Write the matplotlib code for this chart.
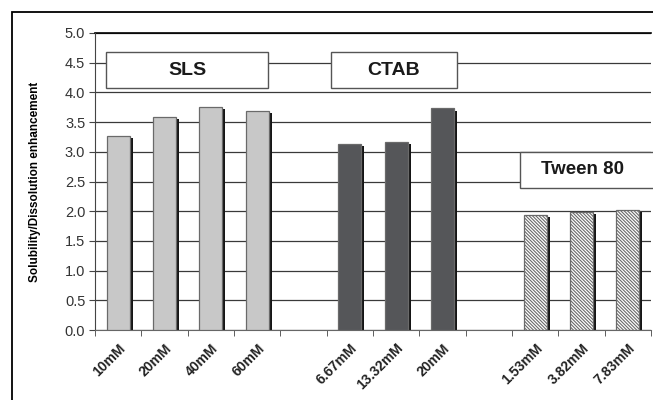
import matplotlib
matplotlib.use("Agg")
import matplotlib.pyplot as plt
from matplotlib.patches import Rectangle

# surfactant concentrations and enhancement ratios
sls_labels = ["10mM", "20mM", "40mM", "60mM"]
sls_values = [3.27, 3.59, 3.76, 3.68]
ctab_labels = ["6.67mM", "13.32mM", "20mM"]
ctab_values = [3.13, 3.16, 3.73]
tween_labels = ["1.53mM", "3.82mM", "7.83mM"]
tween_values = [1.94, 1.98, 2.02]

sls_pos = [0, 1, 2, 3]
ctab_pos = [5, 6, 7]
tween_pos = [9, 10, 11]

plt.rcParams['font.family'] = ['Liberation Sans', 'DejaVu Sans']

fig = plt.figure(figsize=(6.53, 4.0), dpi=100)
ax = fig.add_axes([0.1455, 0.175, 0.8515, 0.7425])

# outer frame around the whole chart
fig.patches.append(Rectangle((0.018, -0.1), 1.2, 1.07, transform=fig.transFigure,
                             fill=False, edgecolor="black", lw=1.3))

w = 0.5
dx, dy = 0.065, 0.035

def draw_group(pos, vals, face, hatch=None):
    for p, v in zip(pos, vals):
        ax.bar(p + dx, v - dy, width=w, color="#151515", zorder=2)
        ax.bar(p, v, width=w, color=face, edgecolor="#6a6a6a", lw=0.9,
               hatch=hatch, zorder=3)

draw_group(sls_pos, sls_values, "#c8c8c8")
draw_group(ctab_pos, ctab_values, "#555659")
plt.rcParams['hatch.color'] = "#444444"
plt.rcParams['hatch.linewidth'] = 0.8
draw_group(tween_pos, tween_values, "white", hatch="\\" * 10)

ax.set_xlim(-0.5, 11.5)
ax.set_ylim(0, 5.0)
ax.set_yticks([i * 0.5 for i in range(11)])
ax.set_yticklabels(["%.1f" % (i * 0.5) for i in range(11)], fontsize=10.5, color="#333333")
ax.yaxis.grid(True, color="#3a3a3a", lw=0.9)
ax.set_axisbelow(True)

ticks = sls_pos + ctab_pos + tween_pos
labels = sls_labels + ctab_labels + tween_labels
ax.set_xticks([t - 0.5 for t in range(13)], minor=True)
ax.set_xticks(ticks)
ax.set_xticklabels(labels, rotation=45, ha="right", rotation_mode="anchor",
                   fontsize=10, fontweight="bold", color="#222222")
ax.tick_params(axis="x", which="major", length=0, pad=8)
ax.tick_params(axis="x", which="minor", length=4, color="#444444", direction="out")
ax.tick_params(axis="y", length=4, color="#444444", direction="out", pad=3)

for s in ["top", "right"]:
    ax.spines[s].set_visible(False)
ax.spines["left"].set_color("#444444")
ax.spines["bottom"].set_color("#666666")
ax.axhline(5.0, color="black", lw=1.2, zorder=1, clip_on=False)

ax.set_ylabel("Solubility/Dissolution enhancement", fontsize=8.5, fontweight="bold",
              labelpad=17)

# group name boxes
def label_box(x0, x1, y0, y1, text, size):
    ax.add_patch(Rectangle((x0, y0), x1 - x0, y1 - y0, facecolor="white",
                           edgecolor="#555555", lw=1.0, zorder=4, clip_on=False))
    xc = (x0 + min(x1, 11.35)) / 2
    ax.text(xc, (y0 + y1) / 2, text, ha="center", va="center", fontsize=size,
            fontweight="bold", color="#1a1a1a", zorder=5)

label_box(-0.26, 3.23, 4.07, 4.68, "SLS", 14)
label_box(4.59, 7.31, 4.07, 4.68, "CTAB", 14)
label_box(8.67, 11.7, 2.39, 3.0, "Tween 80", 13.5)

fig.savefig("out.png", dpi=100)
